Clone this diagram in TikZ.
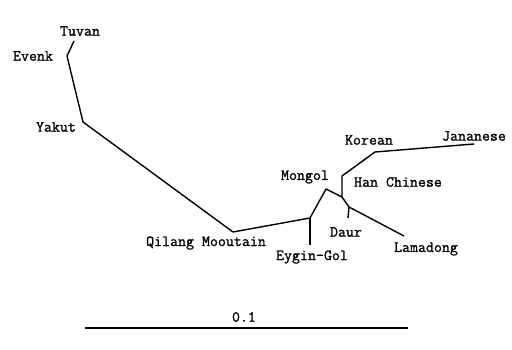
\documentclass[tikz,border=0pt]{standalone}
\usepackage{fontspec}
\newfontfamily\treefont{Latin Modern Mono}[FakeBold=1.2]
\tikzset{
  branch/.style={line width=1.4pt, line join=round},
  taxon/.style={font=\fontsize{15.5}{17}\selectfont\treefont, inner sep=0pt}
}
\begin{document}
\begin{tikzpicture}[x=1pt,y=-1pt]
        \useasboundingbox (0,0) rectangle (512,350);
        % Tree vertices
        \coordinate (tuvan) at (74,41);
        \coordinate (evenk) at (67,56);
        \coordinate (yakut) at (83,122);
        \coordinate (qilang) at (233,232);
        \coordinate (eygin) at (310,218);
        \coordinate (eygintip) at (310,245);
        \coordinate (mongol) at (326,189);
        \coordinate (hub) at (342,197);
        \coordinate (han) at (342,176);
        \coordinate (korean) at (375,152);
        \coordinate (japan) at (474,144);
        \coordinate (daur) at (349,207);
        \coordinate (daurtip) at (348,218);
        \coordinate (lama) at (404,236);

        % Branches
        \draw[branch] (tuvan) -- (evenk) -- (yakut) -- (qilang) -- (eygin) -- (mongol) -- (hub);
        \draw[branch] (eygin) -- (eygintip);
        \draw[branch] (hub) -- (han) -- (korean) -- (japan);
        \draw[branch] (hub) -- (daur) -- (lama);
        \draw[branch] (daur) -- (daurtip);

        % Labels
        \node[taxon] (ltuvan) at (80,31) {Tuvan};
        \node[taxon] (levenk) at (33,56) {Evenk};
        \node[taxon] (lyakut) at (56,127) {Yakut};
        \node[taxon] (lqilang) at (206,243) {Qilang Mooutain};
        \node[taxon] (leygin) at (312,257) {Eygin-Gol};
        \node[taxon] (lmongol) at (305,177) {Mongol};
        \node[taxon] (lhan) at (398,182) {Han Chinese};
        \node[taxon] (lkorean) at (369,140) {Korean};
        \node[taxon] (ljapan) at (474,136) {Jananese};
        \node[taxon] (ldaur) at (346,232) {Daur};
        \node[taxon] (llama) at (426,249) {Lamadong};

        % Scale bar
        \coordinate (barl) at (85,328);
        \coordinate (barr) at (408,328);
        \draw[branch] (barl) -- (barr);
        \node[taxon] (lbar) at (244,317) {0.1};
\end{tikzpicture}
\end{document}
